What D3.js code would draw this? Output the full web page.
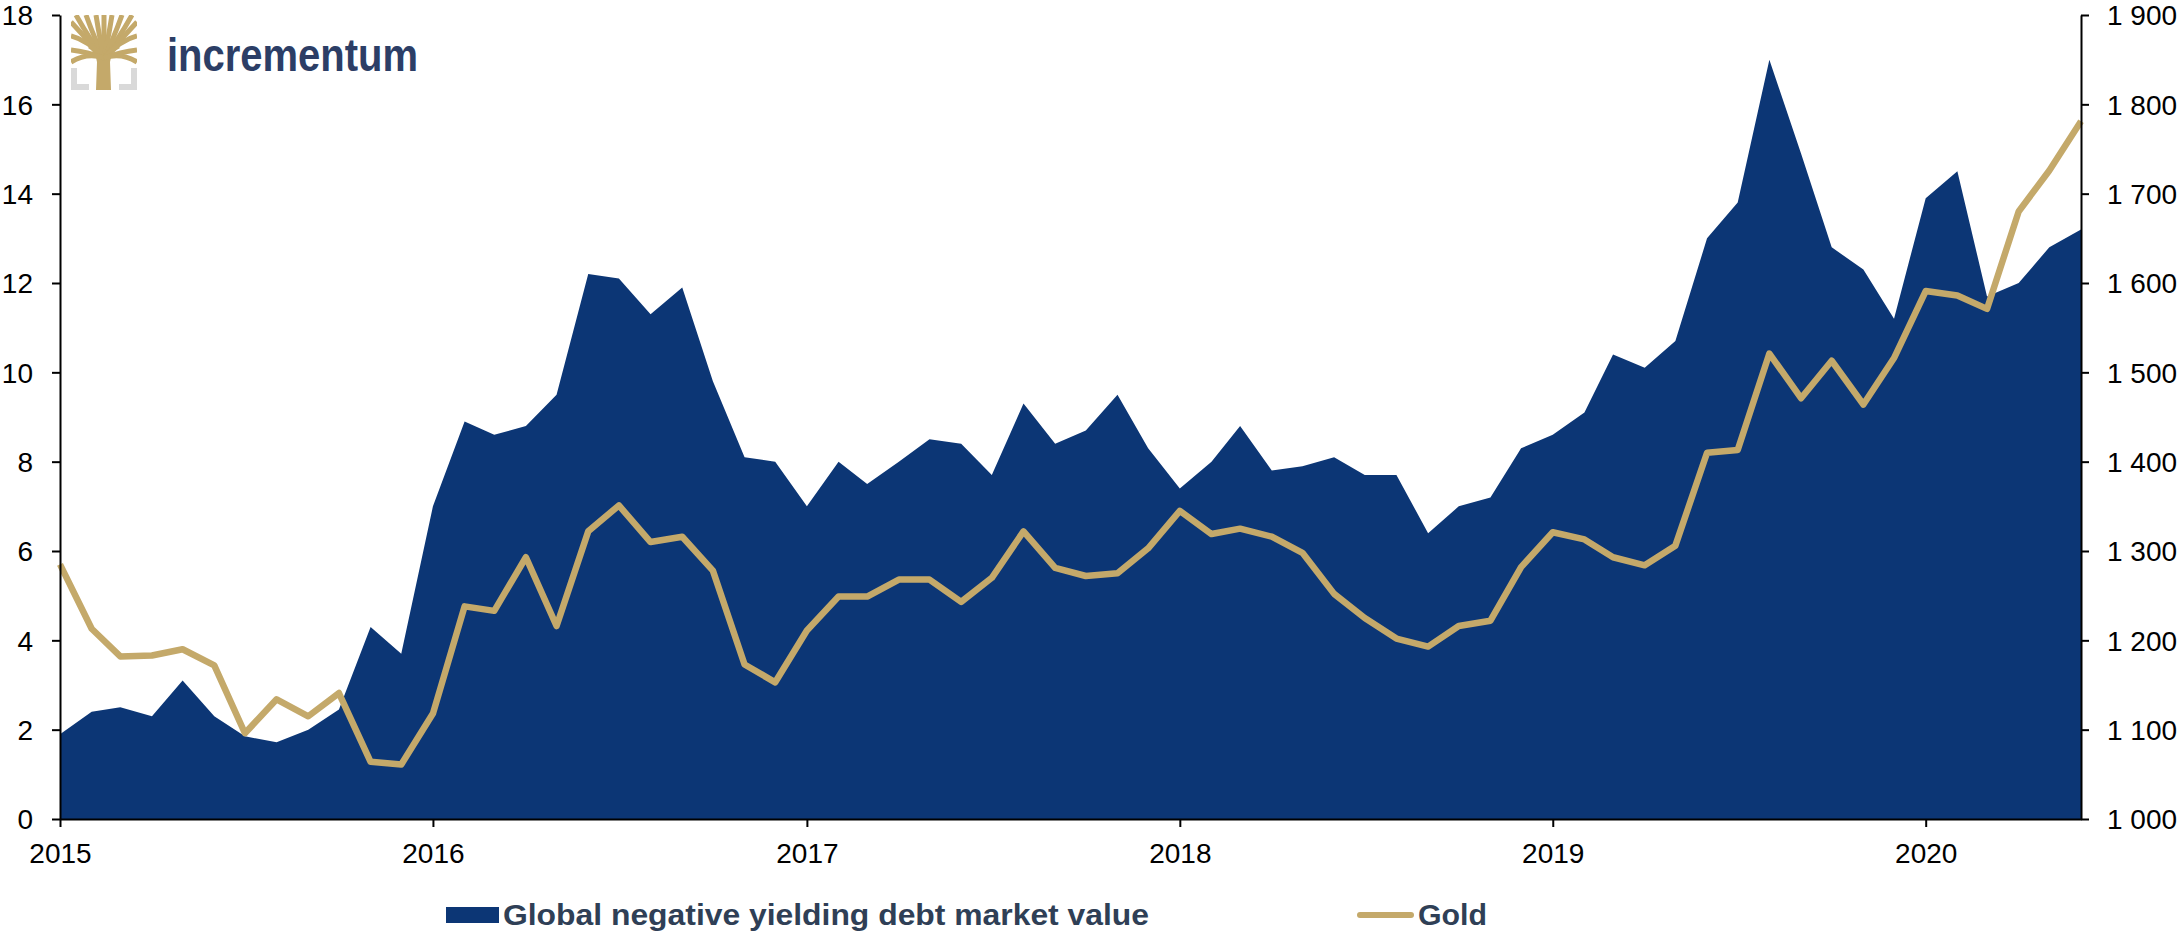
<!DOCTYPE html>
<html>
<head>
<meta charset="utf-8">
<script src="https://cdn.jsdelivr.net/npm/d3@7"></script>
<style>
  html, body { margin: 0; padding: 0; background: #fff; }
  svg { display: block; font-family: "Liberation Sans", Arial, sans-serif; }
  .axis text { font-size: 28px; fill: #000; }
  .axis path, .axis line { stroke: #000; stroke-width: 2px; }
  .legend text { font-size: 29px; font-weight: bold; fill: #2f3f56; }
</style>
</head>
<body>
<svg id="chart" width="2183" height="932"></svg>
<script>
// monthly, Jan 2015 .. Jun 2020
const months = [
  "2015-01","2015-02","2015-03","2015-04","2015-05","2015-06","2015-07","2015-08","2015-09","2015-10","2015-11","2015-12",
  "2016-01","2016-02","2016-03","2016-04","2016-05","2016-06","2016-07","2016-08","2016-09","2016-10","2016-11","2016-12",
  "2017-01","2017-02","2017-03","2017-04","2017-05","2017-06","2017-07","2017-08","2017-09","2017-10","2017-11","2017-12",
  "2018-01","2018-02","2018-03","2018-04","2018-05","2018-06","2018-07","2018-08","2018-09","2018-10","2018-11","2018-12",
  "2019-01","2019-02","2019-03","2019-04","2019-05","2019-06","2019-07","2019-08","2019-09","2019-10","2019-11","2019-12",
  "2020-01","2020-02","2020-03","2020-04","2020-05","2020-06"
];

// Global negative yielding debt market value (left axis)
const debt = [
  1.9, 2.4, 2.5, 2.3, 3.1, 2.3, 1.85, 1.72, 2.0, 2.45, 4.3, 3.7,
  7.0, 8.9, 8.6, 8.8, 9.5, 12.2, 12.1, 11.3, 11.9, 9.8, 8.1, 8.0,
  7.0, 8.0, 7.5, 8.0, 8.5, 8.4, 7.7, 9.3, 8.4, 8.7, 9.5, 8.3,
  7.4, 8.0, 8.8, 7.8, 7.9, 8.1, 7.7, 7.7, 6.4, 7.0, 7.2, 8.3,
  8.6, 9.1, 10.4, 10.1, 10.7, 13.0, 13.8, 17.0, 14.9, 12.8, 12.3, 11.2,
  13.9, 14.5, 11.7, 12.0, 12.8, 13.2
];

// Gold price (right axis)
const gold = [
  1285, 1213, 1182, 1183, 1190, 1172, 1096, 1134, 1115, 1141, 1064, 1061,
  1118, 1238, 1233, 1293, 1216, 1322, 1351, 1310, 1316, 1278, 1173, 1153,
  1211, 1249, 1249, 1268, 1268, 1243, 1270, 1322, 1281, 1272, 1275, 1303,
  1345, 1319, 1325, 1316, 1298, 1252, 1225, 1202, 1193, 1216, 1222, 1282,
  1321, 1313, 1293, 1284, 1306, 1410, 1413, 1521, 1471, 1513, 1464, 1516,
  1591, 1586, 1571, 1680, 1726, 1781
];

const leftTicks = [0, 2, 4, 6, 8, 10, 12, 14, 16, 18];
const rightTicks = [1000, 1100, 1200, 1300, 1400, 1500, 1600, 1700, 1800, 1900];
const yearTicks = ["2015-01", "2016-01", "2017-01", "2018-01", "2019-01", "2020-01"];
const legendLabels = ["Global negative yielding debt market value", "Gold"];

const navy = "#0c3675";
const goldColor = "#c4a96a";

const parse = d3.timeParse("%Y-%m");
const rows = months.map((m, i) => ({ date: parse(m), debt: debt[i], gold: gold[i] }));

const svg = d3.select("#chart");
const plot = { left: 60, right: 2081, top: 15, bottom: 819 };

const x = d3.scaleTime()
  .domain(d3.extent(rows, d => d.date))
  .range([plot.left, plot.right]);
const yL = d3.scaleLinear().domain([0, 18]).range([plot.bottom, plot.top]);
const yR = d3.scaleLinear().domain([1000, 1900]).range([plot.bottom, plot.top]);

// area for debt
svg.append("path")
  .datum(rows)
  .attr("fill", navy)
  .attr("d", d3.area()
    .x(d => x(d.date))
    .y0(yL(0))
    .y1(d => yL(d.debt)));

// gold line
svg.append("path")
  .datum(rows)
  .attr("fill", "none")
  .attr("stroke", goldColor)
  .attr("stroke-width", 6.5)
  .attr("stroke-linejoin", "round")
  .attr("d", d3.line()
    .x(d => x(d.date))
    .y(d => yR(d.gold)));

// axes
svg.append("g")
  .attr("class", "axis")
  .attr("transform", `translate(${plot.left},0)`)
  .call(d3.axisLeft(yL).tickValues(leftTicks).tickSize(8).tickSizeOuter(0).tickPadding(19))
  .selectAll("text").attr("dy", "0.35em");

const fmtGold = d => d3.format(",")(d).replace(",", " ");
svg.append("g")
  .attr("class", "axis")
  .attr("transform", `translate(${plot.right},0)`)
  .call(d3.axisRight(yR).tickValues(rightTicks).tickFormat(fmtGold).tickSize(8).tickSizeOuter(0).tickPadding(18))
  .selectAll("text").attr("dy", "0.35em");

svg.append("g")
  .attr("class", "axis")
  .attr("transform", `translate(0,${plot.bottom})`)
  .call(d3.axisBottom(x).tickValues(yearTicks.map(parse)).tickFormat(d3.timeFormat("%Y")).tickSize(8).tickSizeOuter(0).tickPadding(16));

// legend
const legend = svg.append("g").attr("class", "legend");
legend.append("rect")
  .attr("x", 446).attr("y", 907).attr("width", 53).attr("height", 16)
  .attr("fill", navy);
legend.append("text")
  .attr("x", 503).attr("y", 925)
  .attr("textLength", 646).attr("lengthAdjust", "spacingAndGlyphs")
  .text(legendLabels[0]);
legend.append("line")
  .attr("x1", 1360).attr("x2", 1411).attr("y1", 915).attr("y2", 915)
  .attr("stroke", goldColor).attr("stroke-width", 6).attr("stroke-linecap", "round");
legend.append("text")
  .attr("x", 1418).attr("y", 925)
  .attr("textLength", 69).attr("lengthAdjust", "spacingAndGlyphs")
  .text(legendLabels[1]);

// logo
const logo = svg.append("g");
logo.append("clipPath").attr("id", "logoClip")
  .append("rect").attr("x", 71).attr("y", 15).attr("width", 66).attr("height", 75);
const tree = logo.append("g").attr("clip-path", "url(#logoClip)");
const grey = "#d9d9d9";
tree.append("path").attr("fill", grey)
  .attr("d", "M71,68 h6 v16 h12 v6 h-18 Z M137,68 h-6 v16 h-12 v6 h18 Z");
tree.append("path").attr("fill", goldColor)
  .attr("d", "M96,90 L97,62 Q96,52 88,48 L92,44 Q101,50 104,44 Q107,50 116,44 L120,48 Q111,52 110,62 L111,90 Z");
const branchEnds = [
  [71, 22], [76, 15], [86, 15], [96, 15], [104, 15], [112, 15], [122, 15], [132, 15], [137, 22],
  [71, 36], [71, 50], [71, 62], [137, 36], [137, 50], [137, 62]
];
branchEnds.forEach(([ex, ey]) => {
  const cx = (104 + ex) / 2;
  tree.append("path")
    .attr("fill", "none").attr("stroke", goldColor).attr("stroke-width", 5)
    .attr("d", `M104,58 Q${cx},${ey > 40 ? 52 : 40} ${ex},${ey}`);
});
logo.append("text")
  .attr("x", 167).attr("y", 71)
  .attr("font-size", 46).attr("font-weight", "bold").attr("fill", "#2c3e66")
  .attr("textLength", 251).attr("lengthAdjust", "spacingAndGlyphs")
  .text("incrementum");
</script>
</body>
</html>
